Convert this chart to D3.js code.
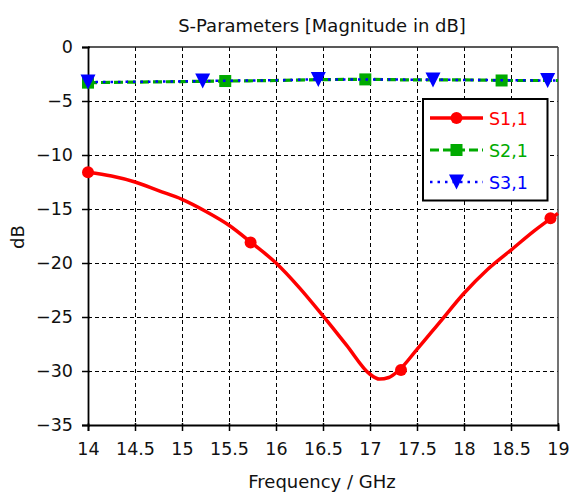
<!DOCTYPE html>
<html>
<head>
<meta charset="utf-8">
<script src="https://cdn.jsdelivr.net/npm/d3@7"></script>
<style>
  html, body { margin: 0; padding: 0; background: #fff; }
  svg { display: block; }
  text { font-family: "DejaVu Sans", Verdana, sans-serif; }
</style>
</head>
<body>
<svg id="chart" width="570" height="494"></svg>
<script>
// ---- data ----
const xTicks = [14, 14.5, 15, 15.5, 16, 16.5, 17, 17.5, 18, 18.5, 19];
const yTicks = [0, -5, -10, -15, -20, -25, -30, -35];

const s11Freq = [14, 14.25, 14.5, 14.75, 15, 15.25, 15.5, 15.75, 16, 16.25, 16.5, 16.75, 17, 17.1, 17.2, 17.3, 17.5, 17.75, 18, 18.25, 18.5, 18.75, 19];
const s11Val  = [-11.6, -11.95, -12.5, -13.3, -14.1, -15.2, -16.5, -18.2, -20.0, -22.3, -24.9, -27.6, -30.3, -30.75, -30.6, -30.0, -28.0, -25.4, -22.8, -20.6, -18.8, -17.0, -15.4];
const s11MarkFreq = [14, 15.73, 17.33, 18.92];
const s11MarkVal  = [-11.6, -18.1, -29.9, -15.85];

const s21Freq = [14, 14.5, 15, 15.5, 16, 16.5, 17, 17.5, 18, 18.5, 19];
const s21Val  = [-3.3, -3.25, -3.2, -3.15, -3.1, -3.02, -3.0, -3.05, -3.05, -3.1, -3.1];
const s21MarkFreq = [14, 15.46, 16.95, 18.4];
const s21MarkVal  = [-3.3, -3.15, -3.0, -3.1];

const s31Freq = [14, 14.5, 15, 15.5, 16, 16.5, 17, 17.5, 18, 18.5, 19];
const s31Val  = [-3.25, -3.22, -3.18, -3.12, -3.08, -3.0, -3.0, -3.03, -3.05, -3.08, -3.1];
const s31MarkFreq = [14, 15.22, 16.45, 17.67, 18.89];
const s31MarkVal  = [-3.25, -3.15, -3.0, -3.05, -3.1];

const seriesNames = ["S1,1", "S2,1", "S3,1"];
const seriesColors = ["#ff0000", "#00aa00", "#0000ff"];

// ---- layout ----
const L = 88, R = 558, T = 47, B = 425;
const svg = d3.select("#chart");
const x = d3.scaleLinear().domain([14, 19]).range([L, R]);
const y = d3.scaleLinear().domain([-35, 0]).range([B, T]);
const px = v => Math.round(v) + 0.5;

// grid
const grid = svg.append("g").attr("shape-rendering", "crispEdges");
grid.selectAll("line.vx").data(xTicks.slice(1, -1)).enter().append("line")
  .attr("x1", d => px(x(d))).attr("x2", d => px(x(d))).attr("y1", T).attr("y2", B)
  .attr("stroke", "#000").attr("stroke-width", 1).attr("stroke-dasharray", "4,3");
grid.selectAll("line.hy").data(yTicks.slice(1, -1)).enter().append("line")
  .attr("y1", d => px(y(d))).attr("y2", d => px(y(d))).attr("x1", L).attr("x2", R)
  .attr("stroke", "#000").attr("stroke-width", 1).attr("stroke-dasharray", "4,3");

// frame
svg.append("line").attr("x1", L).attr("x2", R).attr("y1", T).attr("y2", T).attr("stroke", "#222").attr("stroke-width", 1.5);
svg.append("line").attr("x1", R).attr("x2", R).attr("y1", T).attr("y2", B).attr("stroke", "#444").attr("stroke-width", 1.5);

// axes
const xAxis = d3.axisBottom(x).tickValues(xTicks).tickFormat(d3.format("")).tickSize(6).tickPadding(12);
const gx = svg.append("g").attr("transform", `translate(0,${B})`).call(xAxis);
gx.select(".domain").attr("stroke", "#000").attr("stroke-width", 1.8);
gx.selectAll(".tick line").attr("stroke", "#000").attr("stroke-width", 1.5).attr("y1", -2);
gx.selectAll(".tick text").attr("font-size", "17.5px").attr("fill", "#111");

const yAxis = d3.axisLeft(y).tickValues(yTicks).tickFormat(d3.format("")).tickSize(6).tickPadding(9);
const gy = svg.append("g").attr("transform", `translate(${L},0)`).call(yAxis);
gy.select(".domain").attr("stroke", "#000").attr("stroke-width", 1.8);
gy.selectAll(".tick line").attr("stroke", "#000").attr("stroke-width", 1.5).attr("x1", 2);
gy.selectAll(".tick text").attr("font-size", "17.5px").attr("fill", "#111");

// titles
svg.append("text").attr("x", 322).attr("y", 32).attr("text-anchor", "middle")
  .attr("font-size", "18px").attr("fill", "#111").text("S-Parameters [Magnitude in dB]");
svg.append("text").attr("x", 322).attr("y", 488).attr("text-anchor", "middle")
  .attr("font-size", "18px").attr("fill", "#111").text("Frequency / GHz");
svg.append("text").attr("transform", "translate(24,237) rotate(-90)").attr("text-anchor", "middle")
  .attr("font-size", "18px").attr("fill", "#111").text("dB");

// lines
const lineGen = d3.line().x(d => x(d[0])).y(d => y(d[1])).curve(d3.curveMonotoneX);
const zip = (a, b) => a.map((v, i) => [v, b[i]]);
const plot = svg.append("g");

function circleM(g, cx, cy, color) {
  g.append("circle").attr("cx", cx).attr("cy", cy).attr("r", 6).attr("fill", color);
}
function squareM(g, cx, cy, color) {
  g.append("rect").attr("x", cx - 6).attr("y", cy - 6).attr("width", 12).attr("height", 12).attr("fill", color);
}
function triM(g, cx, cy, color) {
  g.append("path").attr("d", `M${cx - 7.5},${cy - 7.5}L${cx + 7.5},${cy - 7.5}L${cx},${cy + 7.5}Z`).attr("fill", color);
}

// S1,1
plot.append("path").datum(zip(s11Freq, s11Val)).attr("d", lineGen)
  .attr("fill", "none").attr("stroke", seriesColors[0]).attr("stroke-width", 3.5).attr("stroke-linejoin", "round");
s11MarkFreq.forEach((f, i) => circleM(plot, x(f), y(s11MarkVal[i]), seriesColors[0]));

// S2,1
plot.append("path").datum(zip(s21Freq, s21Val)).attr("d", lineGen)
  .attr("fill", "none").attr("stroke", seriesColors[1]).attr("stroke-width", 3.2).attr("stroke-dasharray", "9,4");
s21MarkFreq.forEach((f, i) => squareM(plot, x(f), y(s21MarkVal[i]), seriesColors[1]));

// S3,1
plot.append("path").datum(zip(s31Freq, s31Val)).attr("d", lineGen)
  .attr("fill", "none").attr("stroke", seriesColors[2]).attr("stroke-width", 2.5).attr("stroke-dasharray", "2.5,5");
s31MarkFreq.forEach((f, i) => triM(plot, x(f), y(s31MarkVal[i]), seriesColors[2]));

// legend
const lg = svg.append("g");
lg.append("rect").attr("x", 423).attr("y", 99).attr("width", 124.5).attr("height", 101.5)
  .attr("fill", "#fff").attr("stroke", "#000").attr("stroke-width", 2);
const rowsY = [118, 150, 182];
const dashes = [null, "9,4", "2.5,5"];
const widths = [3.5, 3.2, 2.5];
const markerFns = [circleM, squareM, triM];
seriesNames.forEach((name, i) => {
  const ln = lg.append("line").attr("x1", 430).attr("x2", 483).attr("y1", rowsY[i]).attr("y2", rowsY[i])
    .attr("stroke", seriesColors[i]).attr("stroke-width", widths[i]);
  if (dashes[i]) ln.attr("stroke-dasharray", dashes[i]);
  markerFns[i](lg, 456.5, rowsY[i], seriesColors[i]);
  lg.append("text").attr("x", 489).attr("y", rowsY[i] + 6.5).attr("font-size", "17.5px")
    .attr("fill", seriesColors[i]).text(name);
});
</script>
</body>
</html>
